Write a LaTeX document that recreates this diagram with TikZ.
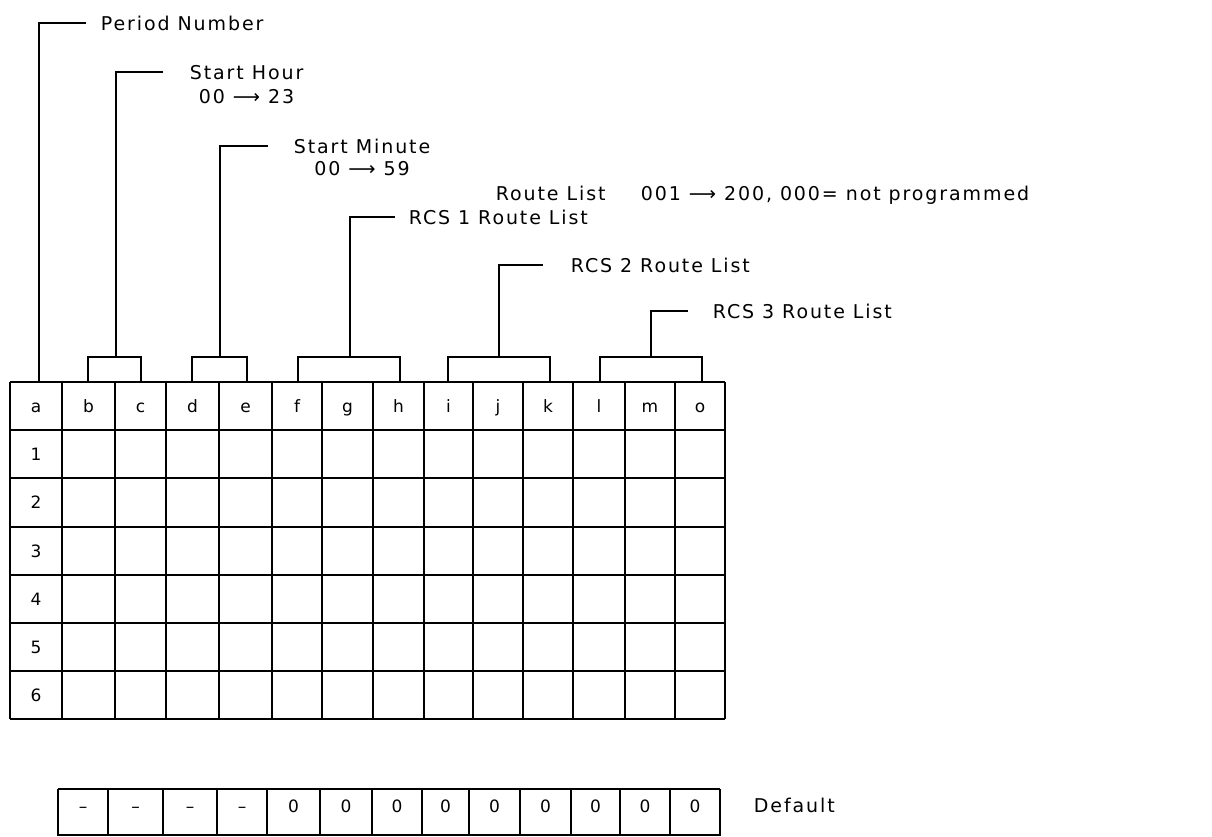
\documentclass[tikz,border=0pt]{standalone}
\usepackage{fontspec}
\newfontfamily\lblfont[LetterSpace=10]{DejaVu Sans}
\newfontfamily\cellfont{DejaVu Sans}
\begin{document}
\begin{tikzpicture}[x=1pt,y=-1pt,line width=1.8pt,
  lbl/.style={font=\lblfont\fontsize{19}{21}\selectfont,inner sep=0pt,anchor=base west},
  cell/.style={font=\cellfont\fontsize{17}{19}\selectfont,inner sep=0pt},
  dcell/.style={font=\cellfont\fontsize{17}{19}\selectfont,inner sep=0pt,anchor=base},
  leader/.style={line width=1.7pt},
  grid/.style={line width=1.9pt}]
\useasboundingbox (0,0) rectangle (1212,836);
\fill[white] (0,0) rectangle (1212,836);

% main table grid
\foreach \x in {10,62,115,166,219,272,322,373,424,473,523,573,625,675,725}
  \draw[grid] (\x,382) -- (\x,719);
\foreach \y in {382,430,478,527,575,623,671,719}
  \draw[grid] (10,\y) -- (725,\y);

% header letters
\foreach \c/\l in {36/a,88.5/b,140.5/c,192.5/d,245.5/e,297/f,347.5/g,398.5/h,448.5/i,498/j,548/k,599/l,650/m,700/o}
  \node[dcell] (h\l) at (\c,412) {\l};
% row numbers
\foreach \r/\y in {1/460,2/508,3/557,4/605,5/653,6/701}
  \node[dcell] (n\r) at (36,\y) {\r};

% brackets
\coordinate (bA) at (39,382);
\draw[leader] (88,382) -- (88,357) -- (141,357) -- (141,382);
\coordinate (bBC) at (116,357);
\draw[leader] (192,382) -- (192,357) -- (247,357) -- (247,382);
\coordinate (bDE) at (220,357);
\draw[leader] (298,382) -- (298,357) -- (400,357) -- (400,382);
\coordinate (bFH) at (350,357);
\draw[leader] (448,382) -- (448,357) -- (550,357) -- (550,382);
\coordinate (bIK) at (499,357);
\draw[leader] (600,382) -- (600,357) -- (702,357) -- (702,382);
\coordinate (bLO) at (651,357);

% labels
\node[lbl] (pn) at (100,30) {Period Number};
\node[lbl] (sh) at (189,79) {Start Hour};
\node[lbl,anchor=base] (sh2) at ([yshift=-24pt]sh.base) {00 ⟶ 23};
\node[lbl] (sm) at (293,153) {Start Minute};
\node[lbl,anchor=base] (sm2) at ([yshift=-22pt]sm.base) {00 ⟶ 59};
\node[lbl] (rl) at (495,200) {Route List};
\node[lbl] (rlr) at (640,200) {001 ⟶ 200, 000= not programmed};
\node[lbl] (r1) at (408,224) {RCS 1 Route List};
\node[lbl] (r2) at (570,272) {RCS 2 Route List};
\node[lbl] (r3) at (712,318) {RCS 3 Route List};

% leaders
\draw[leader] (bA) |- ([xshift=-14pt]pn.west);
\draw[leader] (bBC) |- ([xshift=-26pt]sh.west);
\draw[leader] (bDE) |- ([xshift=-25pt]sm.west);
\draw[leader] (bFH) |- ([xshift=-13pt]r1.west);
\draw[leader] (bIK) |- ([xshift=-27pt]r2.west);
\draw[leader] (bLO) |- ([xshift=-24pt]r3.west);

% default row
\foreach \x in {58,108,163,217,267,320,372,422,469,520,571,620,670,720}
  \draw[grid] (\x,789) -- (\x,836);
\draw[grid] (58,789) -- (720,789);
\draw[grid] (58,835) -- (720,835);
\foreach \i/\c/\t in {1/83/–,2/135.5/–,3/190/–,4/242/–,5/293.5/0,6/346/0,7/397/0,8/445.5/0,9/494.5/0,10/545.5/0,11/595.5/0,12/645/0,13/695/0}
  \node[dcell] (d\i) at (\c,812) {\t};
\node[lbl,anchor=west] (dflt) at (753,805) {Default};
\end{tikzpicture}
\end{document}
